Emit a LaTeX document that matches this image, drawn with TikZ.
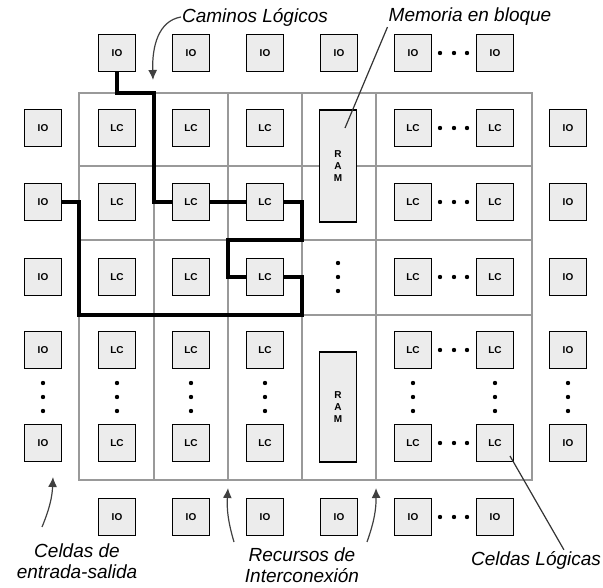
\documentclass[tikz,border=0pt]{standalone}
\usepackage{fontspec}
\setmainfont{Liberation Sans}
\usepackage{tikz}
\usetikzlibrary{arrows.meta}

\begin{document}
\begin{tikzpicture}[
x=1pt, y=1pt,
cell/.style={draw, line width=1.1pt, fill=gray!15, minimum size=37pt, inner sep=0pt, font=\fontsize{10}{12}\selectfont\bfseries},
ram/.style={cell, minimum width=37pt, align=center, font=\fontsize{10}{12}\selectfont\bfseries},
bus/.style={draw=gray!80, line width=2.2pt},
route/.style={line width=4.5pt},
note/.style={font=\fontsize{19}{21}\selectfont\itshape, inner sep=1pt, align=center},
pointer/.style={-{Latex[length=10pt,width=9pt]}, line width=1.2pt, black!75},
leader/.style={line width=1.2pt, black!80}
]
\useasboundingbox (0,0) rectangle (603,587);

% interconnect grid
\draw[bus] (79,107) rectangle (532,494);
\foreach \x in {154,228,302,376} \draw[bus] (\x,107) -- (\x,494);
\foreach \y in {272,347,421} \draw[bus] (79,\y) -- (532,\y);

% logic cells
\foreach \c/\x in {1/117,2/191,3/265,4/413,5/495}
  \foreach \r/\y in {1/459,2/385,3/310,4/237,5/144}
    \node[cell] (lc\c\r) at (\x,\y) {LC};

% io cells round the array
\foreach \r/\y in {1/459,2/385,3/310,4/237,5/144} {
  \node[cell] (iol\r) at (43,\y) {IO};
  \node[cell] (ior\r) at (568,\y) {IO};
}
\foreach \c/\x in {1/117,2/191,3/265,4/339,5/413,6/495} {
  \node[cell] (iot\c) at (\x,534) {IO};
  \node[cell] (iob\c) at (\x,70) {IO};
}

% block memory
\node[ram, minimum height=112pt] (ramt) at (338,421) {R\\A\\M};
\node[ram, minimum height=110pt] (ramb) at (338,180) {R\\A\\M};

% dots
\foreach \y in {534,459,385,310,237,144,70}
  \foreach \x in {440,454,467} \fill (\x,\y) circle (2.2pt);
\foreach \x in {43,117,191,265,413,495,568}
  \foreach \y in {176,190,204} \fill (\x,\y) circle (2.2pt);
\foreach \y in {296,310,324} \fill (338,\y) circle (2.2pt);

% logic paths
\draw[route] (iot1.south) |- (154,494) |- (lc22.west);
\draw[route] (lc22.east) -- (lc32.west);
\draw[route] (lc32.east) -| (302,347) -| (228,310) -- (lc33.west);
\draw[route] (iol2.east) -| (79,272) -| (302,310) -- (lc33.east);

% labels
\node[note] (caminos) at (255,570) {Caminos Lógicos};
\node[note] (memoria) at (470,570) {Memoria en bloque};
\node[note] (celdasio) at (77,26) {Celdas de\\entrada-salida};
\node[note] (recursos) at (302,22) {Recursos de\\Interconexión};
\node[note] (celdaslc) at (536,27) {Celdas Lógicas};

\coordinate (camtip) at (153,507);
\coordinate (memtip) at (345,459);
\coordinate (iotail) at (42,60);
\coordinate (iotip) at (53,110);
\coordinate (rectaila) at (234,45);
\coordinate (rectipa) at (228,99);
\coordinate (rectailb) at (367,45);
\coordinate (rectipb) at (376,99);
\coordinate (lctip) at (510,131);

\draw[pointer] (caminos.west) .. controls (158,566) and (152,540) .. (camtip);
\draw[leader] (memoria.south west) -- (memtip);
\draw[pointer] (iotail) to[bend right=10] (iotip);
\draw[pointer] (rectaila) to[bend left=10] (rectipa);
\draw[pointer] (rectailb) to[bend right=10] (rectipb);
\draw[leader] (celdaslc.20) -- (lctip);
\end{tikzpicture}
\end{document}
